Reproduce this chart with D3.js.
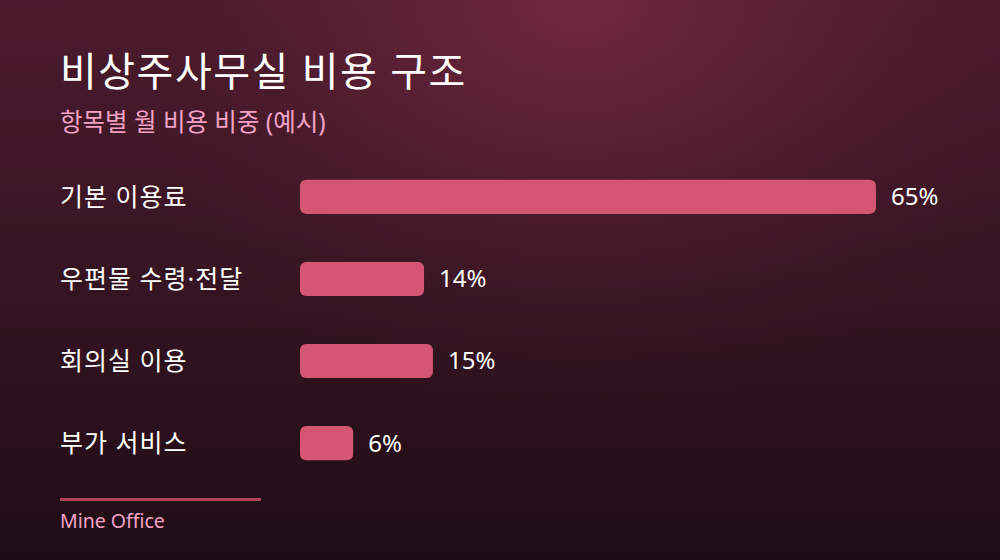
<!DOCTYPE html>
<html>
<head>
<meta charset="utf-8">
<script src="https://cdn.jsdelivr.net/npm/d3@7"></script>
<style>
  html, body { margin: 0; padding: 0; background: #1f0c14; }
  svg { display: block; }
  text { font-family: "Noto Sans", "Noto Sans CJK KR", sans-serif; }
</style>
</head>
<body>
<script>
// data
var categories = ['기본 이용료', '우편물 수령·전달', '회의실 이용', '부가 서비스'];
var values = [65, 14, 15, 6];
var valueLabels = ['65%', '14%', '15%', '6%'];

var title = '비상주사무실 비용 구조';
var subtitle = '항목별 월 비용 비중 (예시)';
var footer = 'Mine Office';

var W = 1000, H = 560;

var svg = d3.select('body').append('svg')
    .attr('width', W)
    .attr('height', H);

var defs = svg.append('defs');

// background: dark wine gradient with a soft glow at the top
var lin = defs.append('linearGradient')
    .attr('id', 'bg')
    .attr('x1', 0).attr('y1', 0).attr('x2', 0).attr('y2', 1);
lin.append('stop').attr('offset', '0%').attr('stop-color', '#4d1b2d');
lin.append('stop').attr('offset', '55%').attr('stop-color', '#331420');
lin.append('stop').attr('offset', '100%').attr('stop-color', '#1f0c14');

var glow = defs.append('radialGradient')
    .attr('id', 'glow')
    .attr('gradientUnits', 'userSpaceOnUse')
    .attr('cx', 580).attr('cy', 0).attr('r', 540)
    .attr('gradientTransform', 'translate(580,0) scale(1,0.75) translate(-580,0)');
glow.append('stop').attr('offset', '0%').attr('stop-color', '#72283f').attr('stop-opacity', 1);
glow.append('stop').attr('offset', '45%').attr('stop-color', '#5e2236').attr('stop-opacity', 0.6);
glow.append('stop').attr('offset', '100%').attr('stop-color', '#3a1522').attr('stop-opacity', 0);

svg.append('rect').attr('width', W).attr('height', H).attr('fill', 'url(#bg)');
svg.append('rect').attr('width', W).attr('height', H).attr('fill', 'url(#glow)');

// headings
svg.append('text')
    .attr('x', 60).attr('y', 86)
    .attr('fill', '#ffffff')
    .attr('font-size', 40)
    .attr('letter-spacing', 1.5)
    .text(title);

svg.append('text')
    .attr('x', 60).attr('y', 131)
    .attr('fill', '#f2a3c4')
    .attr('font-size', 24.5)
    .text(subtitle);

// scales
var x = d3.scaleLinear()
    .domain([0, d3.max(values)])
    .range([300, 876]);

var y = d3.scaleBand()
    .domain(categories)
    .range([156, 484])
    .paddingInner(0.585)
    .paddingOuter(0.29);

var rows = svg.append('g').attr('class', 'rows')
    .selectAll('g')
    .data(categories)
    .join('g');

rows.append('text')
    .attr('x', 60)
    .attr('y', function (d) { return y(d) + y.bandwidth() / 2; })
    .attr('dy', '0.35em')
    .attr('fill', '#ffffff')
    .attr('font-size', 25)
    .attr('letter-spacing', 1)
    .text(function (d) { return d; });

rows.append('rect')
    .attr('x', x(0))
    .attr('y', function (d) { return y(d); })
    .attr('height', y.bandwidth())
    .attr('width', function (d, i) { return x(values[i]) - x(0); })
    .attr('rx', 6)
    .attr('fill', '#d55674');

rows.append('text')
    .attr('x', function (d, i) { return x(values[i]) + 15; })
    .attr('y', function (d) { return y(d) + y.bandwidth() / 2; })
    .attr('dy', '0.35em')
    .attr('fill', '#ffffff')
    .attr('font-size', 24)
    .text(function (d, i) { return valueLabels[i]; });

// footer
svg.append('line')
    .attr('x1', 60).attr('x2', 261)
    .attr('y1', 499.5).attr('y2', 499.5)
    .attr('stroke', '#b0445f')
    .attr('stroke-width', 3);

svg.append('text')
    .attr('x', 60).attr('y', 528)
    .attr('fill', '#f2a3c4')
    .attr('font-size', 19.5)
    .text(footer);
</script>
</body>
</html>
